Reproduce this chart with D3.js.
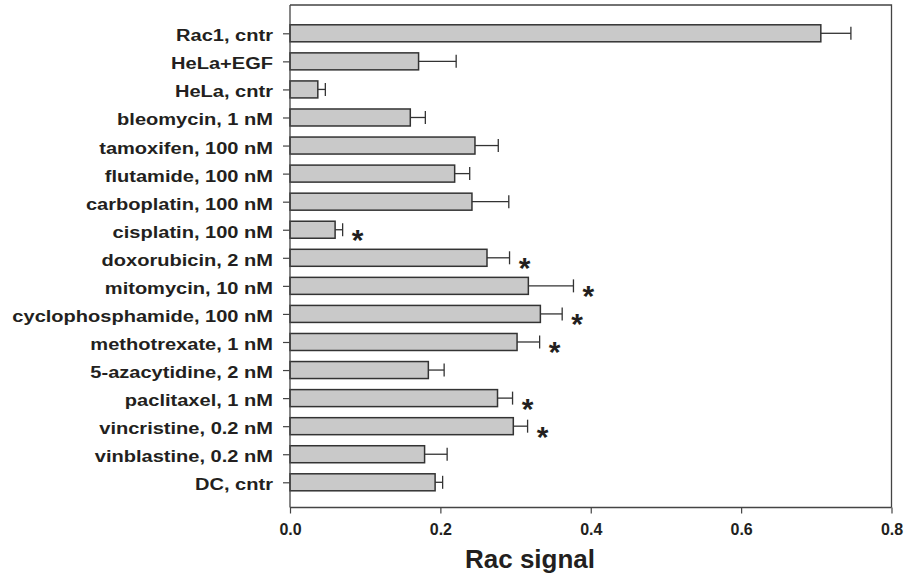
<!DOCTYPE html>
<html>
<head>
<meta charset="utf-8">
<script src="https://cdn.jsdelivr.net/npm/d3@7"></script>
<style>
  body { margin: 0; background: #fff; }
  text { font-family: "Liberation Sans", Arial, sans-serif; font-weight: bold; fill: #231f20; }
</style>
</head>
<body>
<svg id="chart" width="906" height="576"></svg>
<script>
const categories = [
  "Rac1, cntr", "HeLa+EGF", "HeLa, cntr", "bleomycin, 1 nM", "tamoxifen, 100 nM",
  "flutamide, 100 nM", "carboplatin, 100 nM", "cisplatin, 100 nM", "doxorubicin, 2 nM",
  "mitomycin, 10 nM", "cyclophosphamide, 100 nM", "methotrexate, 1 nM",
  "5-azacytidine, 2 nM", "paclitaxel, 1 nM", "vincristine, 0.2 nM",
  "vinblastine, 0.2 nM", "DC, cntr"
];
const means = [0.706, 0.171, 0.037, 0.160, 0.246, 0.219, 0.242, 0.060, 0.262,
  0.317, 0.333, 0.302, 0.184, 0.276, 0.297, 0.179, 0.193];
const errors = [0.040, 0.050, 0.010, 0.020, 0.031, 0.020, 0.049, 0.010, 0.030,
  0.060, 0.029, 0.030, 0.021, 0.020, 0.019, 0.030, 0.010];
const significant = [false, false, false, false, false, false, false, true, true,
  true, true, true, false, true, true, false, false];
const xTicks = [0.0, 0.2, 0.4, 0.6, 0.8];

const data = categories.map((c, i) => ({ name: c, mean: means[i], err: errors[i], sig: significant[i] }));

const svg = d3.select("#chart");
const mLeft = 290, mRight = 891.5, mTop = 5, mBottom = 507.5;
const barH = 17;

const x = d3.scaleLinear().domain([0, 0.8]).range([mLeft, mRight]);
const y = d3.scalePoint().domain(categories).range([33.3, 482.3]);

// frame (top + right)
svg.append("path")
  .attr("d", `M${mLeft},${mTop}H${mRight}V${mBottom}`)
  .attr("fill", "none").attr("stroke", "#444").attr("stroke-width", 1.3);

// bars
svg.selectAll("rect.bar").data(data).enter().append("rect")
  .attr("class", "bar")
  .attr("x", x(0))
  .attr("y", d => y(d.name) - barH / 2)
  .attr("width", d => x(d.mean) - x(0))
  .attr("height", barH)
  .style("fill", "#c9c9c9")
  .style("stroke", "#333")
  .style("stroke-width", 1.5);

// error bars
const eb = svg.selectAll("g.err").data(data).enter().append("g").attr("class", "err");
eb.append("line")
  .attr("x1", d => x(d.mean)).attr("x2", d => x(d.mean + d.err))
  .attr("y1", d => y(d.name)).attr("y2", d => y(d.name))
  .attr("stroke", "#333").attr("stroke-width", 1.3);
eb.append("line")
  .attr("x1", d => x(d.mean + d.err)).attr("x2", d => x(d.mean + d.err))
  .attr("y1", d => y(d.name) - 6.5).attr("y2", d => y(d.name) + 6.5)
  .attr("stroke", "#333").attr("stroke-width", 1.3);

// significance stars
svg.selectAll("text.star").data(data.filter(d => d.sig)).enter().append("text")
  .attr("class", "star")
  .attr("x", d => x(d.mean + d.err) + 15)
  .attr("y", d => y(d.name) + 20.5)
  .attr("text-anchor", "middle")
  .style("font-size", "30px")
  .text("*");

// y axis
const yAxis = svg.append("g").attr("transform", `translate(${mLeft},0)`)
  .call(d3.axisLeft(y).tickSize(7).tickFormat(""));
yAxis.select(".domain").attr("d", `M0,${mTop}V${mBottom}`).attr("stroke", "#444").attr("stroke-width", 1.3);
yAxis.selectAll(".tick line").attr("stroke", "#444").attr("stroke-width", 1.2);

// category labels (slightly wide, as in the original)
svg.selectAll("text.cat").data(categories).enter().append("text")
  .attr("class", "cat")
  .attr("transform", d => `translate(273,${y(d) + 8}) scale(1.18,1)`)
  .attr("text-anchor", "end")
  .style("font-size", "17px")
  .text(d => d);

// x axis
const xAxis = svg.append("g").attr("transform", `translate(0,${mBottom})`)
  .call(d3.axisBottom(x).tickValues(xTicks).tickSize(6).tickPadding(8).tickFormat(d3.format(".1f")));
xAxis.select(".domain").attr("d", `M${mLeft},0H${mRight}`).attr("stroke", "#444").attr("stroke-width", 1.3);
xAxis.selectAll(".tick line").attr("stroke", "#444").attr("stroke-width", 1.2);
xAxis.selectAll(".tick text")
  .attr("font-family", null)
  .attr("dy", null)
  .attr("y", 27.5)
  .style("font-size", "16px")
  .style("fill", "#231f20");

svg.append("text")
  .attr("x", 530)
  .attr("y", 568)
  .attr("text-anchor", "middle")
  .style("font-size", "26px")
  .text("Rac signal");
</script>
</body>
</html>
